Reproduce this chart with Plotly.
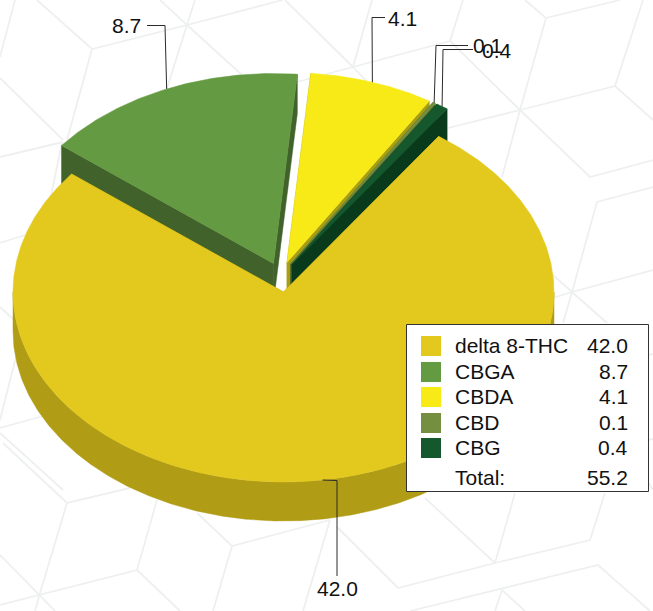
import math
import plotly.graph_objects as go

# ---- data ----
categories = ["delta 8-THC", "CBGA", "CBDA", "CBD", "CBG"]
values = [42.0, 8.7, 4.1, 0.1, 0.4]
total_label = 55.2

# ---- style ----
top_colors = ["#E3C81E", "#649A42", "#F8EA17", "#738F3F", "#15582D"]
side_colors = ["#B09C15", "#41622A", "#A99E10", "#55692D", "#0A3A1C"]
apex_x = [283.5, 273.5, 287, 290.5, 292]
apex_y = [292, 263.5, 262.5, 264, 264.5]
RX, RY, DEPTH = 270.5, 190, 39
START_DEG = 35.0
LINE = "#2A2A2A"
BG_LINE = "#EEF0F0"
FONT = "Liberation Sans, Arial, sans-serif"
FS = 21
W, H = 653, 611

# ---- decorative background lines (pixel space) ----
bg_lines = [
    [(520,110),(546,18),(525,0)], [(546,18),(620,0)], [(520,110),(615,86),(643,0)], [(615,86),(653,120)],
    [(520,110),(440,130)], [(520,110),(450,41),(463,0)], [(450,41),(297,82)], [(520,110),(502,177)],
    [(520,110),(590,177),(653,160)], [(653,187),(597,202),(572,292),(653,270)], [(572,292),(563,323)],
    [(572,292),(607,323)], [(572,292),(540,302)], [(572,292),(545,268)],
    [(425,498),(495,563),(515,493)], [(495,563),(590,540),(605,493)], [(495,563),(398,588),(337,527)],
    [(410,611),(598,565),(650,611)], [(502,590),(495,611)], [(502,590),(525,611)],
    [(3,443),(67,503),(130,488)], [(67,503),(40,593)], [(0,605),(137,570),(157,500)], [(0,555),(55,611)],
    [(40,593),(35,611)], [(137,570),(180,611)], [(197,513),(232,546),(330,520)], [(232,546),(213,611)],
    [(330,520),(303,611)],
    [(37,0),(92,49),(187,25),(195,0)], [(92,49),(67,140)], [(187,25),(160,0)], [(187,25),(283,0)],
    [(187,25),(242,75)], [(187,25),(167,88)], [(15,0),(0,57)], [(0,78),(63,140)], [(63,142),(0,157)],
    [(62,143),(50,200)], [(285,0),(353,67)], [(353,67),(372,0)], [(353,67),(375,90)],
    [(25,235),(0,243)], [(0,307),(14,320)], [(17,353),(0,420)], [(0,428),(47,415)], [(0,433),(63,490)],
    [(648,355),(653,354)], [(648,440),(653,439)], [(648,482),(653,490)],
]

# elbow and label placement per slice: (elbow_x, elbow_y, end_x, end_y, text_x, text_y, xanchor)
leaders = [
    (337, 480.5, 337, 576, 337, 588, "center"),
    (165, 25.5, 147, 25.5, 142.5, 25, "right"),
    (372, 17.5, 385, 17.5, 385.5, 18, "left"),
    (436, 45.5, 468, 45.5, 470.5, 45, "left"),
    (443, 49.5, 473, 49.5, 480, 50, "left"),
]

full = sum(values)
angles = [START_DEG]
for v in values:
    angles.append(angles[-1] + v / full * 360.0)


def pt(i, deg, dz=0.0):
    a = math.radians(deg)
    return apex_x[i] + RX * math.sin(a), apex_y[i] - RY * math.cos(a) + dz


def arc(i, a0, a1, dz=0.0):
    n = max(2, int(abs(a1 - a0) * 2) + 1)
    return [pt(i, a0 + (a1 - a0) * k / (n - 1), dz) for k in range(n)]


fig = go.Figure()


def poly(points, color, name):
    fig.add_trace(go.Scatter(
        x=[p[0] for p in points] + [points[0][0]],
        y=[p[1] for p in points] + [points[0][1]],
        mode="lines", fill="toself", fillcolor=color,
        line=dict(color=color, width=0.5),
        name=name, hoverinfo="skip", showlegend=False,
    ))


order = [1, 2, 3, 4, 0]
for i in order:
    a0, a1 = angles[i], angles[i + 1]
    ax, ay = apex_x[i], apex_y[i]
    for ang in (a0, a1):
        tx, ty = pt(i, ang)
        poly([(ax, ay), (tx, ty), (tx, ty + DEPTH), (ax, ay + DEPTH)], side_colors[i], categories[i])
    # visible part of the outer wall: the front half of the ellipse
    f0, f1 = max(a0, 90.0), min(a1, 270.0)
    if f1 > f0:
        poly(arc(i, f0, f1) + arc(i, f1, f0, DEPTH), side_colors[i], categories[i])
    poly([(ax, ay)] + arc(i, a0, a1), top_colors[i], categories[i])

annotations = []
for i, (ex, ey, qx, qy, tx, ty, anchor) in enumerate(leaders):
    sx, sy = pt(i, (angles[i] + angles[i + 1]) / 2.0)
    fig.add_trace(go.Scatter(
        x=[sx, ex, qx], y=[sy, ey, qy], mode="lines",
        line=dict(color=LINE, width=1), hoverinfo="skip", showlegend=False,
    ))
    annotations.append(dict(
        x=tx, y=ty, xref="x", yref="y", text=f"{values[i]:.1f}", showarrow=False,
        xanchor=anchor, yanchor="middle", font=dict(family=FONT, size=FS, color="#111111"),
    ))

shapes = []
for seg in bg_lines:
    path = "M " + " L ".join(f"{x},{y}" for x, y in seg)
    shapes.append(dict(type="path", path=path, xref="x", yref="y", layer="below",
                       line=dict(color=BG_LINE, width=1.8)))

# legend panel
LX0, LX1, LY0, LY1 = 406.5, 648.5, 324.5, 491.5
shapes.append(dict(type="rect", x0=LX0, x1=LX1, y0=LY0, y1=LY1, xref="x", yref="y", layer="above",
                   fillcolor="white", line=dict(color="#333333", width=1)))
row_y = [346, 372, 397, 423, 448]
for i, c in enumerate(categories):
    shapes.append(dict(type="rect", x0=421, x1=441, y0=row_y[i] - 10, y1=row_y[i] + 10, xref="x", yref="y",
                       layer="above", fillcolor=top_colors[i], line=dict(width=0)))
    annotations.append(dict(x=452.5, y=row_y[i] - 1, xref="x", yref="y", text=c, showarrow=False, xanchor="left",
                            yanchor="middle", font=dict(family=FONT, size=FS, color="#111111")))
    annotations.append(dict(x=629.5, y=row_y[i] - 1, xref="x", yref="y", text=f"{values[i]:.1f}", showarrow=False,
                            xanchor="right", yanchor="middle", font=dict(family=FONT, size=FS, color="#111111")))
annotations.append(dict(x=452.5, y=477, xref="x", yref="y", text="Total:", showarrow=False, xanchor="left",
                        yanchor="middle", font=dict(family=FONT, size=FS, color="#111111")))
annotations.append(dict(x=629.5, y=477, xref="x", yref="y", text=f"{total_label:.1f}", showarrow=False,
                        xanchor="right", yanchor="middle", font=dict(family=FONT, size=FS, color="#111111")))

fig.update_layout(
    width=W, height=H, autosize=False, margin=dict(l=0, r=0, t=0, b=0),
    paper_bgcolor="white", plot_bgcolor="white", showlegend=False,
    xaxis=dict(range=[0, W], visible=False, fixedrange=True),
    yaxis=dict(range=[H, 0], visible=False, fixedrange=True),
    shapes=shapes, annotations=annotations,
)

fig.write_html("out.html", config={"displayModeBar": False},
               post_script="document.body.style.margin='0';document.body.style.overflow='hidden';")
